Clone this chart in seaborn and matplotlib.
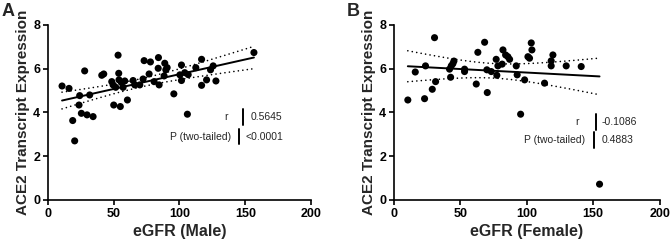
import numpy as np
import matplotlib
matplotlib.use("Agg")
import matplotlib.pyplot as plt
import seaborn as sns

# data (eGFR vs ACE2 expression)
male_egfr = [10.7, 16, 18.8, 20.3, 23.6, 24.1, 25.4, 27.9, 29.7, 31.7, 34.3,
             40.9, 42.4, 48.5, 49.5, 50, 51.5, 53.3, 53.8, 54, 55, 55.8, 57.1,
             58.4, 60.4, 64.7, 66, 69.8, 72.3, 73.1, 77.9, 76.9, 80.7, 84,
             83.8, 84.5, 88.8, 89.6, 90.6, 88.3, 95.7, 101.5, 100.3, 101.5,
             104, 106, 106.6, 112.4, 116.8, 116.8, 120.6, 123.6, 125.6, 127.7,
             156.6]
male_ace2 = [5.21, 5.1, 3.63, 2.70, 4.34, 4.77, 3.96, 5.9, 3.89, 4.8, 3.81,
             5.70, 5.76, 5.41, 5.26, 4.34, 5.15, 6.62, 5.79, 5.49, 4.27, 5.37,
             5.15, 5.44, 4.57, 5.46, 5.26, 5.26, 5.53, 6.37, 6.31, 5.76, 5.41,
             6.51, 6.02, 5.26, 6.25, 5.95, 6.05, 5.67, 4.85, 6.17, 5.72, 5.46,
             5.82, 3.92, 5.73, 6.05, 6.43, 5.24, 5.49, 5.95, 6.13, 5.44, 6.74]

female_egfr = [10.5, 16.1, 23.1, 23.8, 28.9, 30.6, 31.4, 41.9, 43.2, 42.7,
               44.4, 45.2, 53.2, 53.2, 62, 63.2, 68.3, 70, 70.3, 73.3, 77,
               77.5, 78.3, 81.5, 82.1, 84.1, 85.8, 87.1, 92.1, 92.8, 95.4,
               98.4, 100.9, 102.1, 103.4, 103.9, 113.4, 118.4, 118.4, 119.7,
               129.7, 141, 154.8]
female_ace2 = [4.57, 5.85, 4.63, 6.13, 5.06, 7.42, 5.41, 5.98, 6.13, 5.61,
               6.23, 6.35, 5.98, 5.87, 5.3, 6.75, 7.21, 5.95, 4.91, 5.87,
               6.43, 5.70, 6.13, 6.21, 6.86, 6.63, 6.55, 6.43, 6.13, 5.72,
               3.92, 5.49, 6.55, 6.48, 7.18, 6.86, 5.34, 6.36, 6.13, 6.63,
               6.13, 6.1, 0.72]

panels = [
    ("A", "eGFR (Male)", male_egfr, male_ace2, "0.5645", "<0.0001"),
    ("B", "eGFR (Female)", female_egfr, female_ace2, "-0.1086", "0.4883"),
]

sns.set_style("ticks")
plt.rcParams["font.family"] = ["Liberation Sans", "DejaVu Sans"]
plt.rcParams["axes.linewidth"] = 1.2
plt.rcParams["xtick.major.width"] = 1.2
plt.rcParams["ytick.major.width"] = 1.2
plt.rcParams["xtick.major.size"] = 3.5
plt.rcParams["ytick.major.size"] = 3.5

fig = plt.figure(figsize=(6.71, 2.45), dpi=100)
ax_pos = [[0.0715, 0.184, 0.392, 0.714], [0.587, 0.184, 0.396, 0.714]]
letter_x = [0.003, 0.517]
# annotation layout (axes fraction): label right edge, bar x, value left edge
stat_x = [(0.685, 0.740, 0.770, 0.695, 0.727, 0.750),
          (0.697, 0.762, 0.780, 0.718, 0.752, 0.780)]
stat_y = [(0.472, 0.362), (0.447, 0.342)]

for i, (letter, xlabel, x, y, r_txt, p_txt) in enumerate(panels):
    ax = fig.add_axes(ax_pos[i])
    x = np.array(x)
    y = np.array(y)
    sns.regplot(x=x, y=y, ax=ax, ci=None, color="black",
                scatter_kws={"s": 26, "alpha": 1, "edgecolor": "none"},
                line_kws={"lw": 1.4})
    # 95% confidence band of the fit, drawn dotted
    n = len(x)
    b, a = np.polyfit(x, y, 1)
    resid = y - (a + b * x)
    s = np.sqrt(np.sum(resid ** 2) / (n - 2))
    xs = np.linspace(x.min(), x.max(), 100)
    se = s * np.sqrt(1 / n + (xs - x.mean()) ** 2 / np.sum((x - x.mean()) ** 2))
    t = 2.01
    for sign in (1, -1):
        ax.plot(xs, a + b * xs + sign * t * se, color="black", lw=1.2,
                dashes=(0.01, 2.7), dash_capstyle="round")

    ax.set_xlim(0, 200)
    ax.set_ylim(0, 8)
    ax.set_xticks([0, 50, 100, 150, 200])
    ax.set_yticks([0, 2, 4, 6, 8])
    ax.tick_params(labelsize=9, pad=2, colors="black")
    for lab in ax.get_xticklabels() + ax.get_yticklabels():
        lab.set_fontweight("bold")
    ax.set_xlabel(xlabel, fontsize=11.5, fontweight="bold", labelpad=3)
    ax.set_ylabel("ACE2 Transcript Expression", fontsize=11,
                  fontweight="bold", labelpad=2)
    sns.despine(ax=ax)
    ax.spines["left"].set_color("black")
    ax.spines["bottom"].set_color("black")

    rx, rb, rv, px, pb, pv = stat_x[i]
    ry, py = stat_y[i]
    ax.text(rx, ry, "r", transform=ax.transAxes, ha="right", va="center",
            fontsize=7.5)
    ax.plot([rb, rb], [ry - 0.045, ry + 0.045], transform=ax.transAxes,
            color="black", lw=1.4)
    ax.text(rv, ry, r_txt, transform=ax.transAxes, ha="left", va="center",
            fontsize=7.5)
    ax.text(px, py, "P (two-tailed)", transform=ax.transAxes, ha="right",
            va="center", fontsize=7.5)
    ax.plot([pb, pb], [py - 0.045, py + 0.045], transform=ax.transAxes,
            color="black", lw=1.4)
    ax.text(pv, py, p_txt, transform=ax.transAxes, ha="left", va="center",
            fontsize=7.5)

    fig.text(letter_x[i], 0.955, letter, fontsize=13, fontweight="bold",
             ha="left", va="center")

fig.savefig("out.png", dpi=100)
